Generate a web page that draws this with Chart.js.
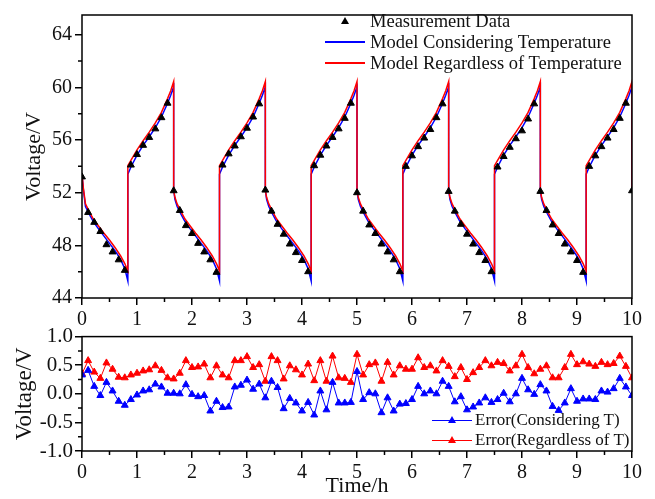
<!DOCTYPE html>
<html>
<head>
<meta charset="utf-8">
<script src="https://cdn.jsdelivr.net/npm/chart.js@4.4.0/dist/chart.umd.min.js"></script>
<style>
  body { margin: 0; background: #fff; }
  #wrap { position: relative; width: 655px; height: 499px; font-family: "Liberation Serif", "Times New Roman", serif; color: #111; }
  canvas { position: absolute; left: 0; }
  #c1 { top: 0; }
  #c2 { top: 322px; }
  .lg { position: absolute; white-space: nowrap; }
  .top { font-size: 18.5px; line-height: 22px; }
  .bot { font-size: 17px; line-height: 20px; }
  .ln { position: absolute; width: 40px; }
  .tri { position: absolute; width: 0; height: 0; border-left: 4px solid transparent; border-right: 4px solid transparent; }
</style>
</head>
<body>
<div id="wrap">
  <canvas id="c1" width="655" height="335"></canvas>
  <canvas id="c2" width="655" height="177"></canvas>

  <!-- top legend -->
  <div class="tri" style="left:341px; top:17px; border-bottom:7px solid #000;"></div>
  <div class="lg top" style="left:370px; top:10px;">Measurement Data</div>
  <div class="ln" style="left:325px; top:41px; height:2px; background:#0000ff;"></div>
  <div class="lg top" style="left:370px; top:31px;">Model Considering Temperature</div>
  <div class="ln" style="left:325px; top:62px; height:2px; background:#ff0000;"></div>
  <div class="lg top" style="left:370px; top:52px;">Model Regardless of Temperature</div>

  <!-- bottom legend -->
  <div class="ln" style="left:432px; top:420px; height:1px; background:#0000ff;"></div>
  <div class="tri" style="left:448px; top:416px; border-bottom:7px solid #0000ff;"></div>
  <div class="lg bot" style="left:475px; top:410px;">Error(Considering T)</div>
  <div class="ln" style="left:432px; top:440px; height:1px; background:#ff0000;"></div>
  <div class="tri" style="left:448px; top:436px; border-bottom:7px solid #ff0000;"></div>
  <div class="lg bot" style="left:475px; top:430px;">Error(Regardless of T)</div>
</div>

<script>
// samples every 400 s (1/9 h), 91 points from 0 to 10 h
var sampleStep = 1 / 9;

var measured = [
  53.2, 50.5, 49.75, 49.05, 48.05, 47.5, 46.9, 46.1,
  54.1, 54.9, 55.6, 56.2, 56.85, 57.7, 58.8,
  52.15, 50.65, 49.5, 48.9, 48.15, 47.5, 46.9, 45.95,
  54.1, 54.95, 55.55, 56.25, 56.9, 57.75, 58.75,
  52.2, 50.6, 49.6, 48.85, 48.1, 47.45, 46.85, 46.0,
  54.05, 54.85, 55.55, 56.2, 56.85, 57.65, 58.8,
  52.0, 50.6, 49.55, 48.9, 48.1, 47.5, 46.9, 46.0,
  54.0, 54.8, 55.5, 56.15, 56.8, 57.7, 58.75,
  52.1, 50.6, 49.6, 48.85, 48.1, 47.45, 46.85, 46.0,
  53.95, 54.75, 55.45, 56.1, 56.7, 57.6, 58.75,
  52.1, 50.65, 49.55, 48.9, 48.1, 47.5, 46.85, 45.95,
  54.0, 54.8, 55.5, 56.15, 56.8, 57.65, 58.8,
  52.15
];

var errConsidering = [
  0.33, 0.41, 0.13, -0.03, 0.20, 0.05, -0.13, -0.20, -0.10, -0.02,
  0.05, 0.07, 0.17, 0.12, 0.01, 0.01, 0.00, 0.16, -0.01, -0.05,
  -0.03, -0.30, -0.13, -0.24, -0.23, 0.12, 0.15, 0.24, 0.08, 0.17,
  -0.07, 0.22, 0.11, -0.26, -0.08, -0.16, -0.30, -0.15, -0.37, 0.05,
  -0.28, 0.20, -0.16, -0.16, -0.15, 0.39, -0.10, 0.02, 0.00, -0.33,
  -0.07, -0.30, -0.18, -0.17, -0.10, 0.13, 0.00, 0.05, 0.00, 0.22,
  0.13, -0.14, -0.05, -0.28, -0.23, -0.16, -0.07, -0.15, -0.10, 0.01,
  -0.14, 0.00, 0.27, 0.07, -0.01, 0.16, 0.05, -0.22, -0.29, -0.16,
  0.09, -0.13, -0.09, -0.09, -0.10, 0.05, 0.03, 0.09, 0.27, 0.12,
  -0.03
];

var errRegardless = [
  0.35, 0.58, 0.38, 0.27, 0.54, 0.43, 0.29, 0.28, 0.33, 0.36,
  0.40, 0.42, 0.49, 0.41, 0.28, 0.26, 0.36, 0.58, 0.46, 0.47,
  0.52, 0.28, 0.49, 0.33, 0.28, 0.58, 0.58, 0.65, 0.46, 0.51,
  0.22, 0.65, 0.58, 0.26, 0.49, 0.42, 0.33, 0.52, 0.23, 0.58,
  0.22, 0.66, 0.28, 0.27, 0.20, 0.69, 0.33, 0.51, 0.54, 0.22,
  0.55, 0.33, 0.49, 0.43, 0.43, 0.63, 0.46, 0.49, 0.40, 0.58,
  0.48, 0.30, 0.46, 0.25, 0.37, 0.46, 0.58, 0.49, 0.55, 0.53,
  0.40, 0.49, 0.69, 0.46, 0.35, 0.43, 0.49, 0.28, 0.28, 0.46,
  0.69, 0.51, 0.56, 0.52, 0.48, 0.55, 0.51, 0.53, 0.66, 0.48,
  0.28
];

// model curves: one discharge + charge cycle (hours from the half-cycle start)
var cycleStarts = [0, 5 / 3, 10 / 3, 5, 20 / 3, 25 / 3];
var dischargeT = [0, 0.023, 0.063, 0.128, 0.206, 0.3, 0.4, 0.5, 0.6, 0.7, 0.78, 5 / 6];
var redDischarge = [52.2, 51.65, 51.15, 50.6, 50.0, 49.47, 48.92, 48.4, 47.84, 47.21, 46.6, 46.05];
var blueDischarge = [52.2, 51.5, 50.95, 50.4, 49.8, 49.25, 48.7, 48.15, 47.6, 46.95, 46.2, 45.3];
var chargeT = [0, 0.056, 0.167, 0.278, 0.389, 0.5, 0.611, 0.722, 0.78, 5 / 6];
var redCharge = [54.05, 54.45, 55.25, 55.95, 56.6, 57.3, 58.1, 59.15, 59.75, 60.45];
var blueCharge = [53.4, 53.95, 54.85, 55.6, 56.25, 56.95, 57.75, 58.8, 59.4, 60.05];
// the very first discharge starts a bit higher
var firstRed = [53.45, 52.4];
var firstBlue = [53.4, 52.3];

var xTicks = [0, 1, 2, 3, 4, 5, 6, 7, 8, 9, 10];
var xMinor = [0.5, 1.5, 2.5, 3.5, 4.5, 5.5, 6.5, 7.5, 8.5, 9.5];
var voltTicks = [44, 48, 52, 56, 60, 64];
var voltMinor = [46, 50, 54, 58, 62];
var errTicks = [-1, -0.5, 0, 0.5, 1];
var errMinor = [-0.75, -0.25, 0.25, 0.75];

function samples(values) {
  return values.map(function (v, i) { return { x: i * sampleStep, y: v }; });
}

function modelSeries(dis, chg, first) {
  var pts = [];
  cycleStarts.forEach(function (t0, c) {
    dischargeT.forEach(function (t, i) {
      var v = (c === 0 && i < first.length) ? first[i] : dis[i];
      pts.push({ x: t0 + t, y: v });
    });
    chargeT.forEach(function (t, i) {
      pts.push({ x: t0 + 5 / 6 + t, y: chg[i] });
    });
  });
  pts.push({ x: 10, y: dis[0] });
  return pts;
}

Chart.defaults.font.family = '"Liberation Serif", "Times New Roman", serif';
Chart.defaults.color = '#111';

// frame round the plot and the small minor ticks
var frameMinor = {
  id: 'frameMinor',
  afterDraw: function (chart, args, opts) {
    var ctx = chart.ctx, a = chart.chartArea, sx = chart.scales.x, sy = chart.scales.y;
    ctx.save();
    ctx.strokeStyle = '#000';
    ctx.lineWidth = 1.5;
    ctx.beginPath();
    opts.minorX.forEach(function (v) {
      var px = sx.getPixelForValue(v);
      ctx.moveTo(px, a.bottom); ctx.lineTo(px, a.bottom + 4);
    });
    opts.minorY.forEach(function (v) {
      var py = sy.getPixelForValue(v);
      ctx.moveTo(a.left, py); ctx.lineTo(a.left - 4, py);
    });
    ctx.stroke();
    ctx.strokeRect(a.left, a.top, a.right - a.left, a.bottom - a.top);
    ctx.restore();
  }
};

function axisGrid() {
  return { drawOnChartArea: false, drawTicks: true, tickLength: 7, color: '#000', lineWidth: 1.5 };
}

var ctx1 = document.getElementById('c1').getContext('2d');
var chart1 = new Chart(ctx1, {
  type: 'scatter',
  data: {
    datasets: [{
      label: 'Measurement Data',
      data: samples(measured),
      pointStyle: 'triangle',
      pointRadius: 4,
      backgroundColor: '#000',
      borderColor: '#000',
      borderWidth: 1
    }, {
      label: 'Model Regardless of Temperature',
      data: modelSeries(redDischarge, redCharge, firstRed),
      showLine: true,
      pointRadius: 0,
      borderColor: '#ff0000',
      borderWidth: 1.5
    }, {
      label: 'Model Considering Temperature',
      data: modelSeries(blueDischarge, blueCharge, firstBlue),
      showLine: true,
      pointRadius: 0,
      borderColor: '#0000ff',
      borderWidth: 1.5
    }]
  },
  options: {
    responsive: false,
    animation: false,
    layout: { padding: { left: 0, top: 12, right: 23, bottom: 0 } },
    plugins: {
      legend: { display: false },
      tooltip: { enabled: false },
      frameMinor: { minorX: xMinor, minorY: voltMinor }
    },
    scales: {
      x: {
        type: 'linear', min: 0, max: 10,
        afterBuildTicks: function (s) { s.ticks = xTicks.map(function (v) { return { value: v }; }); },
        afterFit: function (s) { s.height = 37; },
        grid: axisGrid(),
        border: { display: false },
        ticks: { font: { size: 20 }, padding: 3, color: '#111' }
      },
      y: {
        min: 44, max: 65.5,
        afterBuildTicks: function (s) { s.ticks = voltTicks.map(function (v) { return { value: v }; }); },
        afterFit: function (s) { s.width = 82; },
        grid: axisGrid(),
        border: { display: false },
        ticks: { font: { size: 20 }, padding: 3, color: '#111' },
        title: { display: true, text: 'Voltage/V', font: { size: 22 }, padding: { top: 21, bottom: 0 }, color: '#111' }
      }
    }
  },
  plugins: [frameMinor]
});

var ctx2 = document.getElementById('c2').getContext('2d');
var chart2 = new Chart(ctx2, {
  type: 'scatter',
  data: {
    datasets: [{
      label: 'Error(Considering T)',
      data: samples(errConsidering),
      showLine: true,
      pointStyle: 'triangle',
      pointRadius: 4,
      backgroundColor: '#0000ff',
      borderColor: '#0000ff',
      borderWidth: 1
    }, {
      label: 'Error(Regardless of T)',
      data: samples(errRegardless),
      showLine: true,
      pointStyle: 'triangle',
      pointRadius: 4,
      backgroundColor: '#ff0000',
      borderColor: '#ff0000',
      borderWidth: 1
    }]
  },
  options: {
    responsive: false,
    animation: false,
    layout: { padding: { left: 0, top: 14, right: 23, bottom: 0 } },
    plugins: {
      legend: { display: false },
      tooltip: { enabled: false },
      frameMinor: { minorX: xMinor, minorY: errMinor }
    },
    scales: {
      x: {
        type: 'linear', min: 0, max: 10,
        afterBuildTicks: function (s) { s.ticks = xTicks.map(function (v) { return { value: v }; }); },
        afterFit: function (s) { s.height = 48; },
        grid: axisGrid(),
        border: { display: false },
        ticks: { font: { size: 20 }, padding: 3, color: '#111' },
        title: { display: true, text: 'Time/h', font: { size: 22 }, padding: { top: 0, bottom: 0 }, color: '#111' }
      },
      y: {
        min: -1, max: 1,
        afterBuildTicks: function (s) { s.ticks = errTicks.map(function (v) { return { value: v }; }); },
        afterFit: function (s) { s.width = 82; },
        grid: axisGrid(),
        border: { display: false },
        ticks: { font: { size: 21 }, padding: 2, color: '#111', callback: function (v) { return v.toFixed(1); } },
        title: { display: true, text: 'Voltage/V', font: { size: 23 }, padding: { top: 11, bottom: 0 }, color: '#111' }
      }
    }
  },
  plugins: [frameMinor]
});
</script>
</body>
</html>
